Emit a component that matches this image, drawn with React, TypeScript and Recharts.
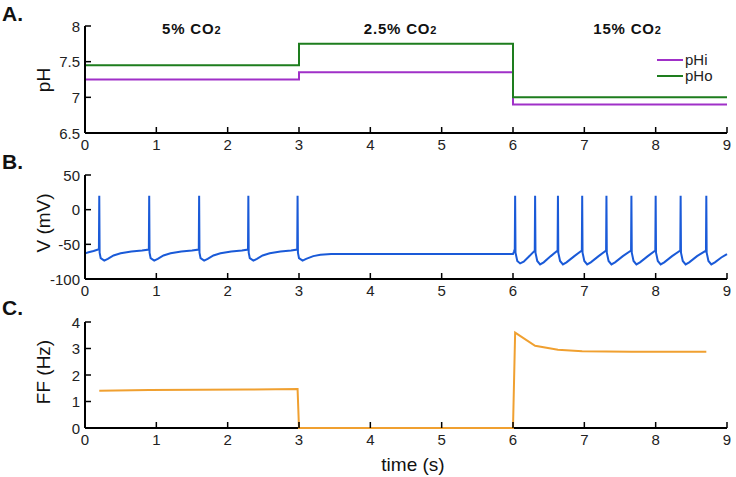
import React from 'react';
import { LineChart, Line, XAxis, YAxis, CartesianGrid } from 'recharts';

const FONT = '"Liberation Sans", Arial, Helvetica, sans-serif';

// ---------- data ----------
const timeTicks = [0, 1, 2, 3, 4, 5, 6, 7, 8, 9];
const phTicks = [6.5, 7, 7.5, 8];
const vTicks = [-100, -50, 0, 50];
const ffTicks = [0, 1, 2, 3, 4];

const phTimes = [0, 3, 6, 9];
const pHi = [7.25, 7.35, 6.9, 6.9];
const pHo = [7.45, 7.75, 7.0, 7.0];

const conditionLabels = ['5% CO', '2.5% CO', '15% CO'];
const conditionCenters = [191.7, 400.5, 627.5];

// membrane potential trace: [time (s), V (mV)]
const voltageTrace: [number, number][] = [
  [0, -63], [0.05, -61.5], [0.12, -59.5], [0.195, -57],
  [0.2, 20], [0.205, -62], [0.22, -70], [0.27, -73.5], [0.32, -71], [0.4, -66], [0.5, -63], [0.65, -60.5], [0.8, -59], [0.895, -57.5],
  [0.9, 20], [0.905, -62], [0.92, -70], [0.97, -73.5], [1.02, -71], [1.1, -66], [1.2, -63], [1.35, -60.5], [1.5, -59], [1.595, -57.5],
  [1.6, 20], [1.605, -62], [1.62, -70], [1.67, -73.5], [1.72, -71], [1.8, -66], [1.9, -63], [2.05, -60.5], [2.2, -59], [2.285, -57.5],
  [2.29, 20], [2.295, -62], [2.31, -70], [2.36, -73.5], [2.41, -71], [2.49, -66], [2.59, -63], [2.74, -60.5], [2.89, -59], [2.975, -57.5],
  [2.98, 20], [2.985, -62], [3.0, -70], [3.05, -73.5], [3.1, -71], [3.2, -67], [3.3, -65], [3.45, -64], [6.0, -64],
  [6.015, -60], [6.025, -57], [6.03, 20], [6.035, -62], [6.06, -74], [6.1, -77.5], [6.15, -75], [6.22, -68], [6.305, -59],
  [6.31, 20], [6.315, -62], [6.34, -74], [6.38, -79], [6.43, -76], [6.53, -67], [6.625, -59],
  [6.63, 20], [6.635, -62], [6.66, -74], [6.7, -79], [6.75, -76], [6.86, -67], [6.965, -59],
  [6.97, 20], [6.975, -62], [7.0, -74], [7.04, -79], [7.09, -76], [7.2, -67], [7.305, -59],
  [7.31, 20], [7.315, -62], [7.34, -74], [7.38, -79], [7.43, -76], [7.54, -67], [7.655, -59],
  [7.66, 20], [7.665, -62], [7.69, -74], [7.73, -79], [7.78, -76], [7.89, -67], [7.995, -59],
  [8.0, 20], [8.005, -62], [8.03, -74], [8.07, -79], [8.12, -76], [8.23, -67], [8.345, -59],
  [8.35, 20], [8.355, -62], [8.38, -74], [8.42, -79], [8.47, -76], [8.58, -67], [8.705, -59],
  [8.71, 20], [8.715, -62], [8.74, -74], [8.78, -79], [8.83, -76], [8.92, -69], [9.0, -64],
];

const ffTimes = [0.2, 0.9, 1.6, 2.29, 2.98, 3.0, 6.0, 6.03, 6.31, 6.63, 6.97, 7.31, 7.66, 8.0, 8.35, 8.71];
const ffValues = [1.41, 1.43, 1.44, 1.45, 1.47, 0, 0, 3.6, 3.1, 2.95, 2.9, 2.89, 2.88, 2.88, 2.88, 2.88];

const COLORS = { pHi: '#a030c8', pHo: '#1e7d1e', v: '#1a5ad8', ff: '#f0a030' };

// ---------- derived tables ----------
const phData = phTimes.map((t, i) => ({ t, pHi: pHi[i], pHo: pHo[i] }));
const vData = voltageTrace.map(([t, v]) => ({ t, v }));
const ffData = ffTimes.map((t, i) => ({ t, ff: ffValues[i] }));

// ---------- ticks (inward, MATLAB style) ----------
const XTick = (props: any) => {
  const { x, y, payload } = props;
  return (
    <g>
      <line x1={x} x2={x} y1={y} y2={y - 6} stroke="#000" strokeWidth={1.5} />
      <text x={x} y={y + 17} textAnchor="middle" fontSize={15} fontFamily={FONT} fill="#222">
        {payload.value}
      </text>
    </g>
  );
};

const YTick = (props: any) => {
  const { x, y, payload } = props;
  return (
    <g>
      <line x1={x} x2={x + 6} y1={y} y2={y} stroke="#000" strokeWidth={1.5} />
      <text x={x - 5} y={y + 5.5} textAnchor="end" fontSize={15} fontFamily={FONT} fill="#222">
        {payload.value}
      </text>
    </g>
  );
};

const axisLine = { stroke: '#000', strokeWidth: 2 };

const makeXAxis = (showLine: boolean) => (
  <XAxis
    type="number"
    dataKey="t"
    domain={[0, 9]}
    ticks={timeTicks}
    interval={0}
    height={30}
    tickSize={0}
    tickMargin={0}
    tickLine={false}
    axisLine={showLine ? axisLine : false}
    tick={<XTick />}
    allowDuplicatedCategory={false}
  />
);

const makeYAxis = (domain: number[], ticks: number[]) => (
  <YAxis
    type="number"
    domain={domain}
    ticks={ticks}
    interval={0}
    width={85}
    tickSize={0}
    tickMargin={0}
    tickLine={false}
    axisLine={axisLine}
    tick={<YTick />}
  />
);

const textBase: React.CSSProperties = {
  position: 'absolute',
  fontFamily: FONT,
  color: '#111',
  whiteSpace: 'nowrap',
  lineHeight: 1,
};

const PanelLetter = ({ text, top }: { text: string; top: number }) => (
  <div style={{ ...textBase, left: 2, top, fontSize: 21, fontWeight: 'bold' }}>{text}</div>
);

const YTitle = ({ text, cy }: { text: string; cy: number }) => (
  <div
    style={{
      ...textBase,
      left: 43,
      top: cy,
      fontSize: 19,
      transform: 'translate(-50%, -50%) rotate(-90deg)',
    }}
  >
    {text}
  </div>
);

export default function App() {
  return (
    <div style={{ position: 'absolute', left: 0, top: 0, width: 736, height: 477, background: '#fff', overflow: 'hidden' }}>
      {/* Panel A */}
      <div style={{ position: 'absolute', left: 0, top: 0 }}>
        <LineChart width={736} height={165} margin={{ top: 26, right: 9, bottom: 2, left: 0 }}>
          {makeXAxis(true)}
          {makeYAxis([6.5, 8], phTicks)}
          <Line data={phData} dataKey="pHi" type="stepAfter" stroke={COLORS.pHi} strokeWidth={2} dot={false} isAnimationActive={false} />
          <Line data={phData} dataKey="pHo" type="stepAfter" stroke={COLORS.pHo} strokeWidth={2} dot={false} isAnimationActive={false} />
        </LineChart>
      </div>

      {/* Panel B */}
      <div style={{ position: 'absolute', left: 0, top: 150 }}>
        <LineChart width={736} height={160} margin={{ top: 25, right: 9, bottom: 1, left: 0 }}>
          {makeXAxis(true)}
          {makeYAxis([-100, 50], vTicks)}
          <Line data={vData} dataKey="v" type="linear" stroke={COLORS.v} strokeWidth={2} dot={false} isAnimationActive={false} />
        </LineChart>
      </div>

      {/* Panel C */}
      <div style={{ position: 'absolute', left: 0, top: 300 }}>
        <LineChart width={736} height={158} margin={{ top: 22, right: 9, bottom: 0, left: 0 }}>
          <CartesianGrid vertical={false} horizontal={true} horizontalValues={[0]} stroke="#000" strokeWidth={2} />
          {makeXAxis(false)}
          {makeYAxis([0, 4], ffTicks)}
          <Line data={ffData} dataKey="ff" type="linear" stroke={COLORS.ff} strokeWidth={2} dot={false} isAnimationActive={false} />
        </LineChart>
      </div>

      {/* Panel letters */}
      <PanelLetter text="A." top={3} />
      <PanelLetter text="B." top={151} />
      <PanelLetter text="C." top={297} />

      {/* Axis titles */}
      <YTitle text="pH" cy={80} />
      <YTitle text="V (mV)" cy={223} />
      <YTitle text="FF (Hz)" cy={372} />
      <div style={{ ...textBase, left: 413, top: 455, fontSize: 19, transform: 'translateX(-50%)' }}>time (s)</div>

      {/* Condition labels */}
      {conditionLabels.map((lab, i) => (
        <div
          key={lab}
          style={{
            ...textBase,
            left: conditionCenters[i],
            top: 21,
            fontSize: 15,
            fontWeight: 'bold',
            letterSpacing: 0.8,
            transform: 'translateX(-50%)',
          }}
        >
          {lab}
          <span style={{ fontSize: 11 }}>2</span>
        </div>
      ))}

      {/* Legend */}
      <div style={{ position: 'absolute', left: 657, top: 52, fontFamily: FONT, fontSize: 15, color: '#222' }}>
        {[
          { name: 'pHi', color: COLORS.pHi },
          { name: 'pHo', color: COLORS.pHo },
        ].map((it) => (
          <div key={it.name} style={{ display: 'flex', alignItems: 'center', height: 16 }}>
            <svg width={28} height={4} style={{ display: 'block' }}>
              <line x1={0} x2={26} y1={2} y2={2} stroke={it.color} strokeWidth={2} />
            </svg>
            <span style={{ lineHeight: '16px' }}>{it.name}</span>
          </div>
        ))}
      </div>
    </div>
  );
}
